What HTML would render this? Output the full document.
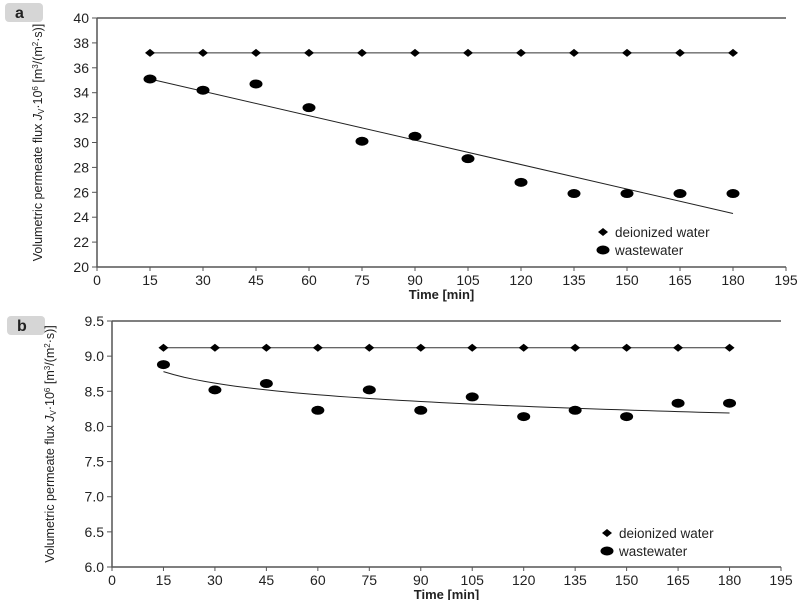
<!DOCTYPE html>
<html><head><meta charset="utf-8"><style>
body{margin:0;background:#fff}
svg text{font-family:"Liberation Sans",sans-serif;fill:#222}
</style></head><body>
<svg width="800" height="600" viewBox="0 0 800 600">
<g id="root"></g>
</svg>
<script>
const xTicks=[0,15,30,45,60,75,90,105,120,135,150,165,180,195];
const times=[15,30,45,60,75,90,105,120,135,150,165,180];
const aDeion=[37.2,37.2,37.2,37.2,37.2,37.2,37.2,37.2,37.2,37.2,37.2,37.2];
const aWaste=[35.1,34.2,34.7,32.8,30.1,30.5,28.7,26.8,25.9,25.9,25.9,25.9];
const aYTicks=[20,22,24,26,28,30,32,34,36,38,40];
const aTrend=[35.1,24.3];
const bDeion=[9.12,9.12,9.12,9.12,9.12,9.12,9.12,9.12,9.12,9.12,9.12,9.12];
const bWaste=[8.88,8.52,8.61,8.23,8.52,8.23,8.42,8.14,8.23,8.14,8.33,8.33];
const bYTicks=[6.0,6.5,7.0,7.5,8.0,8.5,9.0,9.5];
const bTrendCoef=[9.423,-0.2374];

const NS="http://www.w3.org/2000/svg";
const root=document.getElementById('root');
function el(t,a,p){const e=document.createElementNS(NS,t);for(const k in a)e.setAttribute(k,a[k]);(p||root).appendChild(e);return e;}

function panel(cfg){
  const g=el('g',{});
  
  
  const sx=v=>cfg.x0+(v-0)*(cfg.x1-cfg.x0)/195;
  const sy=v=>cfg.y1-(v-cfg.ymin)*(cfg.y1-cfg.y0)/(cfg.ymax-cfg.ymin);
  const lb=el('rect',{x:cfg.lbx,y:cfg.lby,width:38,height:19,rx:4,fill:'#d6d6d6'},g);
  
  const lt=el('text',{x:cfg.lbx+10,y:cfg.lby+15,'font-size':16,'font-weight':'bold','font-family':'Liberation Serif'},g);
  lt.textContent=cfg.label;
  
  const ax=el('path',{d:`M${cfg.x0},${cfg.y0}V${cfg.y1}H${cfg.x1}M${cfg.x0},${cfg.y0}H${cfg.x1}`,stroke:'#555',fill:'none','stroke-width':1.5},g);
  
  xTicks.forEach(t=>{
    el('line',{x1:sx(t),x2:sx(t),y1:cfg.y1,y2:cfg.y1+4,stroke:'#555'},g);
    const tx=el('text',{x:sx(t),y:cfg.y1+18,'font-size':14,'text-anchor':'middle'},g);
    tx.textContent=t;
    
  });
  cfg.yt.forEach(t=>{
    el('line',{x1:cfg.x0-5,x2:cfg.x0,y1:sy(t),y2:sy(t),stroke:'#555'},g);
    const tx=el('text',{x:cfg.x0-8,y:sy(t)+5,'font-size':14,'text-anchor':'end'},g);
    tx.textContent=cfg.fmt(t);
    
  });
  const xt=el('text',{x:(cfg.x0+cfg.x1)/2,y:cfg.y1+32,'font-size':13,'font-weight':'bold','text-anchor':'middle'},g);
  xt.textContent='Time [min]';
  
  const yt=el('text',{transform:`translate(${cfg.ytx},${(cfg.y0+cfg.y1)/2}) rotate(-90)`,'font-size':12.5,'text-anchor':'middle'},g);
  yt.innerHTML='Volumetric permeate flux <tspan font-style="italic">J</tspan><tspan font-size="8" dy="2">V</tspan><tspan dy="-2">·10</tspan><tspan font-size="8" dy="-4">6</tspan><tspan dy="4"> [m</tspan><tspan font-size="8" dy="-4">3</tspan><tspan dy="4">/(m</tspan><tspan font-size="8" dy="-4">2</tspan><tspan dy="4">·s)]</tspan>';
  
  const dl=el('polyline',{points:times.map((t,i)=>sx(t)+','+sy(cfg.deion[i])).join(' '),stroke:'#333',fill:'none','stroke-width':1},g);
  
  times.forEach((t,i)=>{
    const x=sx(t),y=sy(cfg.deion[i]);
    const d=el('path',{d:`M${x-5},${y}L${x},${y-4}L${x+5},${y}L${x},${y+4}Z`,fill:'#000'},g);
    
  });
  const tr=el('path',{d:cfg.trendPath(sx,sy),stroke:'#222',fill:'none','stroke-width':1},g);
  
  times.forEach((t,i)=>{
    const c=el('ellipse',{cx:sx(t),cy:sy(cfg.waste[i]),rx:6.5,ry:4.5,fill:'#000'},g);
    
  });
  const L=cfg.leg;
  const d=el('path',{d:`M${L[0]-5},${L[1]}L${L[0]},${L[1]-4}L${L[0]+5},${L[1]}L${L[0]},${L[1]+4}Z`,fill:'#000'},g);
  
  const t1=el('text',{x:L[0]+12,y:L[1]+5,'font-size':13.5},g);t1.textContent='deionized water';
  
  const c=el('ellipse',{cx:L[0],cy:L[1]+18,rx:6.5,ry:4.5,fill:'#000'},g);
  
  const t2=el('text',{x:L[0]+12,y:L[1]+23,'font-size':13.5},g);t2.textContent='wastewater';
  
}
panel({name:'panel-a',label:'a',lbx:5,lby:3,x0:97,x1:786,y0:18,y1:267,ymin:20,ymax:40,yt:aYTicks,fmt:v=>v,ytx:42,
  deion:aDeion,waste:aWaste,leg:[603,232],
  trendPath:(sx,sy)=>`M${sx(15)},${sy(aTrend[0])}L${sx(180)},${sy(aTrend[1])}`});
panel({name:'panel-b',label:'b',lbx:7,lby:316,x0:112,x1:781,y0:321,y1:567,ymin:6,ymax:9.5,yt:bYTicks,fmt:v=>v.toFixed(1),ytx:54,
  deion:bDeion,waste:bWaste,leg:[607,533],
  trendPath:(sx,sy)=>{let p='';for(let t=15;t<=180;t+=3){p+=(p?'L':'M')+sx(t)+','+sy(bTrendCoef[0]+bTrendCoef[1]*Math.log(t));}return p;}});
</script>
</body></html>
